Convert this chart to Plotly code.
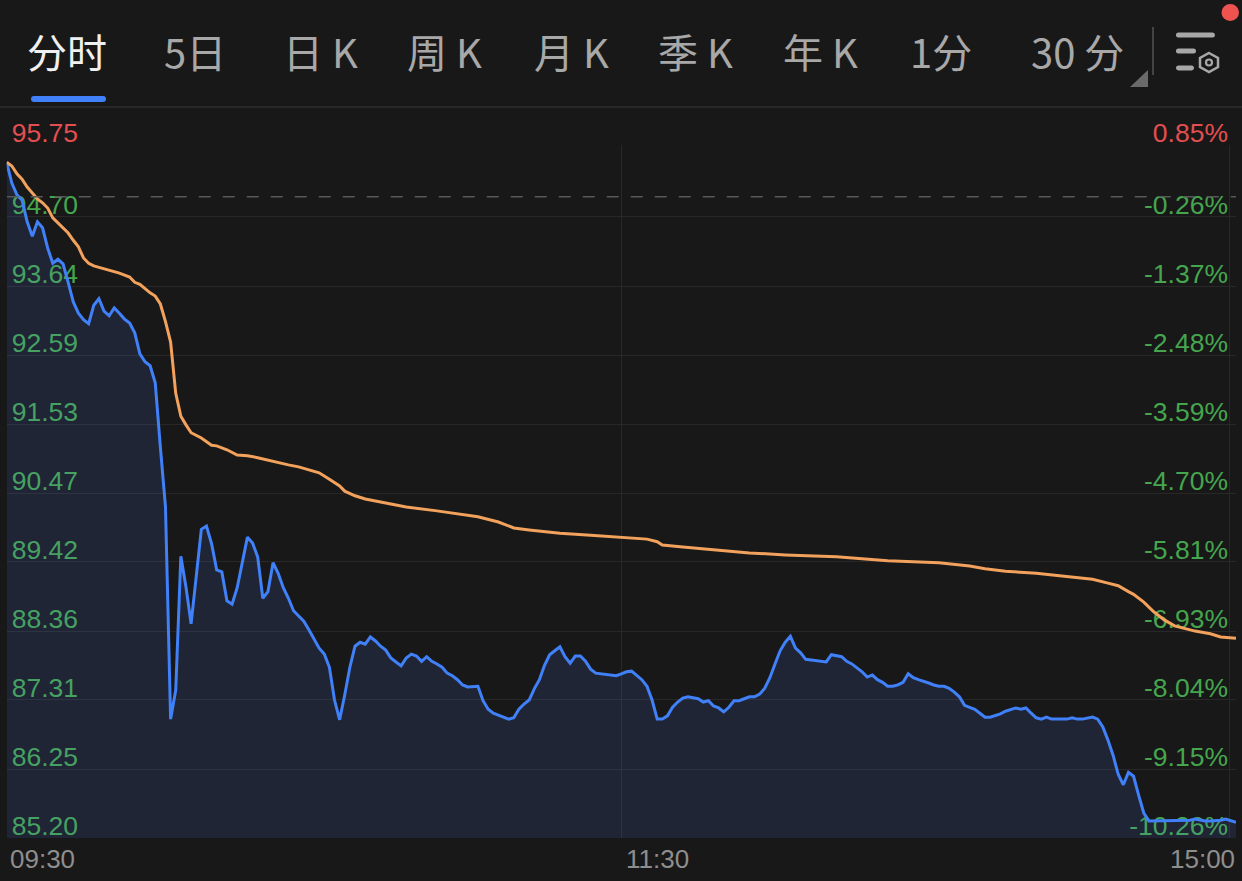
import plotly.graph_objects as go

W, H = 1242, 881

tab_labels = ["分时", "5日", "日 K", "周 K", "月 K", "季 K", "年 K", "1分", "30 分"]
price_ticks = [95.75, 94.654, 93.603, 92.553, 91.502, 90.452, 89.402, 88.351, 87.301, 86.250, 85.20]
price_labels = ["95.75", "94.70", "93.64", "92.59", "91.53", "90.47", "89.42", "88.36", "87.31", "86.25", "85.20"]
pct_ticks = [0.85, -0.304, -1.411, -2.517, -3.623, -4.729, -5.835, -6.942, -8.048, -9.154, -10.26]
pct_labels = ["0.85%", "-0.26%", "-1.37%", "-2.48%", "-3.59%", "-4.70%", "-5.81%", "-6.93%", "-8.04%", "-9.15%", "-10.26%"]
time_labels = ["09:30", "11:30", "15:00"]

price = [
    95.48, 95.17, 94.99, 94.91, 94.58, 94.36, 94.58, 94.49, 94.18, 93.95,
    94.01, 93.94, 93.66, 93.36, 93.19, 93.09, 93.03, 93.31, 93.41, 93.22,
    93.15, 93.27, 93.19, 93.10, 93.04, 92.89, 92.57, 92.45, 92.39, 92.13,
    91.15, 90.24, 87.01, 87.45, 89.49, 89.02, 88.46, 89.20, 89.90, 89.95,
    89.68, 89.28, 89.25, 88.81, 88.76, 89.01, 89.40, 89.78, 89.69, 89.48,
    88.85, 88.95, 89.39, 89.23, 89.01, 88.85, 88.66, 88.58, 88.50, 88.37,
    88.24, 88.09, 88.00, 87.80, 87.30, 87.00, 87.38, 87.80, 88.12, 88.18,
    88.15, 88.26, 88.20, 88.12, 88.06, 87.94, 87.88, 87.82, 87.94, 88.00,
    87.97, 87.89, 87.96, 87.89, 87.85, 87.80, 87.71, 87.67, 87.61, 87.53,
    87.50, 87.51, 87.51, 87.29, 87.16, 87.10, 87.07, 87.04, 87.01, 87.03,
    87.16, 87.24, 87.30, 87.47, 87.61, 87.83, 87.99, 88.05, 88.11, 87.96,
    87.86, 87.97, 87.97, 87.89, 87.77, 87.71, 87.70, 87.68, 87.68, 87.67,
    87.70, 87.73, 87.74, 87.67, 87.61, 87.51, 87.30, 87.01, 87.01, 87.06,
    87.19, 87.27, 87.33, 87.35, 87.33, 87.32, 87.27, 87.29, 87.21, 87.18,
    87.12, 87.19, 87.29, 87.29, 87.32, 87.35, 87.35, 87.39, 87.48, 87.64,
    87.85, 88.05, 88.18, 88.27, 88.09, 88.02, 87.92, 87.91, 87.91, 87.89,
    87.88, 87.99, 87.97, 87.96, 87.89, 87.85, 87.79, 87.73, 87.65, 87.68,
    87.61, 87.57, 87.51, 87.51, 87.53, 87.57, 87.70, 87.64, 87.61, 87.59,
    87.56, 87.53, 87.51, 87.51, 87.48, 87.42, 87.35, 87.22, 87.19, 87.16,
    87.10, 87.04, 87.04, 87.06, 87.09, 87.13, 87.15, 87.18, 87.16, 87.18,
    87.10, 87.03, 87.01, 87.04, 87.01, 87.01, 87.01, 87.01, 87.03, 87.01,
    87.01, 87.03, 87.04, 87.01, 86.89, 86.69, 86.46, 86.17, 86.01, 86.20,
    86.14, 85.85, 85.58, 85.46, 85.46, 85.46, 85.46, 85.46, 85.46, 85.46,
    85.46, 85.47, 85.49, 85.47, 85.46, 85.46, 85.46, 85.47, 85.49, 85.47,
    85.44,
]
assert len(price) == 241, len(price)
minutes = list(range(241))

avg_minutes = [
    0, 1, 2, 3, 4, 5, 6, 7, 8, 9, 10, 11, 12, 13, 14, 15, 16, 17, 18, 20, 22, 24, 25, 26, 27, 28, 29,
    30, 31, 32, 33, 34, 35, 36, 38, 40, 41, 43, 45, 47, 49, 51, 53, 55, 57, 61, 63, 65, 66, 67, 68, 70,
    74, 78, 84, 88, 92, 96, 99, 102, 105, 108, 114, 120, 125, 127, 128, 132, 138, 145, 152, 162, 172,
    182, 188, 191, 195, 201, 206, 212, 215, 217, 219, 220, 222, 224, 226, 228, 232, 235, 237, 240,
]
avg_price = [
    95.49, 95.43, 95.31, 95.23, 95.11, 95.02, 94.93, 94.87, 94.79, 94.64, 94.56, 94.49, 94.41, 94.30,
    94.20, 94.03, 93.95, 93.91, 93.89, 93.85, 93.80, 93.74, 93.66, 93.63, 93.56, 93.50, 93.45,
    93.33, 93.06, 92.75, 91.97, 91.62, 91.49, 91.37, 91.29, 91.18, 91.17, 91.11, 91.03, 91.02, 90.99,
    90.95, 90.92, 90.88, 90.85, 90.76, 90.66, 90.56, 90.48, 90.44, 90.41, 90.36,
    90.30, 90.24, 90.18, 90.13, 90.09, 90.01, 89.92, 89.89, 89.86, 89.84, 89.81, 89.78, 89.75, 89.71,
    89.66, 89.63, 89.59, 89.54, 89.51, 89.48, 89.42,
    89.39, 89.34, 89.30, 89.26, 89.23, 89.19, 89.14, 89.08, 89.04, 88.95, 88.91, 88.79, 88.64, 88.52,
    88.43, 88.35, 88.31, 88.26, 88.24,
]
assert len(avg_minutes) == len(avg_price), (len(avg_minutes), len(avg_price))
prev_close_pct = [0.02, 0.02]
prev_close_x = [0, 240]

BG = "#181818"
GRID = "#282828"
BLUE = "#4080F8"
ORANGE = "#F2A25C"
RED = "#E34F50"
GREEN = "#45A64E"
GREY = "#8E8E8E"
FONT = "Liberation Sans"
CJK = "Noto Sans CJK SC"


def px(x):
    return x / W


def py(y):
    return 1 - y / H


def path(points, close=True):
    s = "M " + " L ".join(f"{px(x):.5f},{py(y):.5f}" for x, y in points)
    return s + (" Z" if close else "")


def rounded_bar(x0, x1, y0, y1):
    r = (y1 - y0) / 2
    return (f"M {px(x0 + r):.5f},{py(y0):.5f} L {px(x1 - r):.5f},{py(y0):.5f} "
            f"Q {px(x1):.5f},{py(y0):.5f} {px(x1):.5f},{py(y0 + r):.5f} "
            f"Q {px(x1):.5f},{py(y1):.5f} {px(x1 - r):.5f},{py(y1):.5f} "
            f"L {px(x0 + r):.5f},{py(y1):.5f} "
            f"Q {px(x0):.5f},{py(y1):.5f} {px(x0):.5f},{py(y0 + r):.5f} "
            f"Q {px(x0):.5f},{py(y0):.5f} {px(x0 + r):.5f},{py(y0):.5f} Z")


fig = go.Figure()
fig.add_trace(go.Scatter(x=prev_close_x, y=prev_close_pct, yaxis="y2", mode="lines",
                         line=dict(color="#585858", width=1.5, dash="12px,12px"), hoverinfo="skip"))
fig.add_trace(go.Scatter(x=minutes, y=price, mode="lines", fill="tozeroy",
                         fillcolor="rgba(85,135,255,0.12)", line=dict(color=BLUE, width=3)))
fig.add_trace(go.Scatter(x=avg_minutes, y=avg_price, mode="lines", line=dict(color=ORANGE, width=3)))

left_text = [f'<span style="color:{RED if i == 0 else GREEN}">{t}</span>' for i, t in enumerate(price_labels)]
right_text = [f'<span style="color:{RED if i == 0 else GREEN}">{t}</span>' for i, t in enumerate(pct_labels)]

shapes = [
    dict(type="line", xref="paper", yref="paper", x0=0, x1=1, y0=py(107), y1=py(107), line=dict(color="#2C2C2C", width=1.5)),
    dict(type="path", xref="paper", yref="paper", path=rounded_bar(31, 106, 96, 102), fillcolor=BLUE, line=dict(width=0)),
    dict(type="line", xref="paper", yref="paper", x0=px(1153), x1=px(1153), y0=py(27), y1=py(75), line=dict(color="#444444", width=2)),
    dict(type="path", xref="paper", yref="paper", path=path([(1148, 70), (1148, 87), (1130, 87)]), fillcolor="#6A6A6A", line=dict(width=0)),
    dict(type="path", xref="paper", yref="paper", path=rounded_bar(1176, 1215, 32.5, 37.5), fillcolor="#A8A8A8", line=dict(width=0)),
    dict(type="path", xref="paper", yref="paper", path=rounded_bar(1176, 1196, 48.5, 53.5), fillcolor="#A8A8A8", line=dict(width=0)),
    dict(type="path", xref="paper", yref="paper", path=rounded_bar(1176, 1194, 65.5, 70.5), fillcolor="#A8A8A8", line=dict(width=0)),
    dict(type="path", xref="paper", yref="paper",
         path=path([(1209, 53), (1218, 58), (1218, 67), (1209, 72), (1200, 67), (1200, 58)]),
         fillcolor="rgba(0,0,0,0)", line=dict(color="#A8A8A8", width=2.5)),
    dict(type="circle", xref="paper", yref="paper", x0=px(1206), x1=px(1212), y0=py(59.5), y1=py(65.5),
         fillcolor="rgba(0,0,0,0)", line=dict(color="#A8A8A8", width=2.2)),
    dict(type="circle", xref="paper", yref="paper", x0=px(1221.5), x1=px(1239), y0=py(4), y1=py(21),
         fillcolor="#EF5350", line=dict(width=0)),
]

tab_x = [67, 195, 320, 444.5, 571, 695.5, 820.5, 941, 1077]
annotations = []
for i, (t, x) in enumerate(zip(tab_labels, tab_x)):
    annotations.append(dict(text=t, xref="paper", yref="paper", x=px(x), y=py(51), xanchor="center", yanchor="middle",
                            showarrow=False, font=dict(family=CJK, size=40, color="#F0F0F0" if i == 0 else "#A8A8A8")))
time_x = [0, 120, 240]
time_anchor = ["left", "left", "right"]
time_shift = [1, 3, 1]
for t, x, a, s in zip(time_labels, time_x, time_anchor, time_shift):
    annotations.append(dict(text=t, xref="x", yref="paper", x=x, y=py(859), xanchor=a, yanchor="middle", xshift=s,
                            showarrow=False, font=dict(family=FONT, size=26, color=GREY)))

fig.update_layout(
    width=W, height=H, margin=dict(l=0, r=0, t=0, b=0, autoexpand=False), autosize=False,
    paper_bgcolor=BG, plot_bgcolor=BG, showlegend=False, hovermode=False,
    xaxis=dict(domain=[px(6.7), px(1236)], range=[0, 240], tickvals=[0, 120, 238.8, 240], ticktext=["", "", "", ""],
               showgrid=True, gridcolor=GRID, gridwidth=1.2, zeroline=False, showline=False, ticks=""),
    yaxis=dict(domain=[py(838), py(145)], range=[85.20, 95.75], tickvals=price_ticks, ticktext=left_text,
               ticklabelposition="inside", ticklabelshift=-12, ticklabelstandoff=2, ticklabeloverflow="allow",
               layer="below traces",
               showgrid=True, gridcolor=GRID, gridwidth=1.2, zeroline=False, showline=False, ticks="",
               tickfont=dict(family=FONT, size=26.5, color=GREEN)),
    yaxis2=dict(overlaying="y", side="right", anchor="x", range=[-10.26, 0.85], tickvals=pct_ticks, ticktext=right_text,
                ticklabelposition="inside", ticklabelshift=-12, ticklabelstandoff=5, ticklabeloverflow="allow",
                layer="below traces",
                showgrid=False, zeroline=False, showline=False, ticks="",
                tickfont=dict(family=FONT, size=26.5, color=GREEN)),
    shapes=shapes, annotations=annotations,
)

fig.write_html("out.html", config=dict(displayModeBar=False),
               post_script="document.body.style.margin='0';document.body.style.background='#181818';document.documentElement.style.overflow='hidden';")
